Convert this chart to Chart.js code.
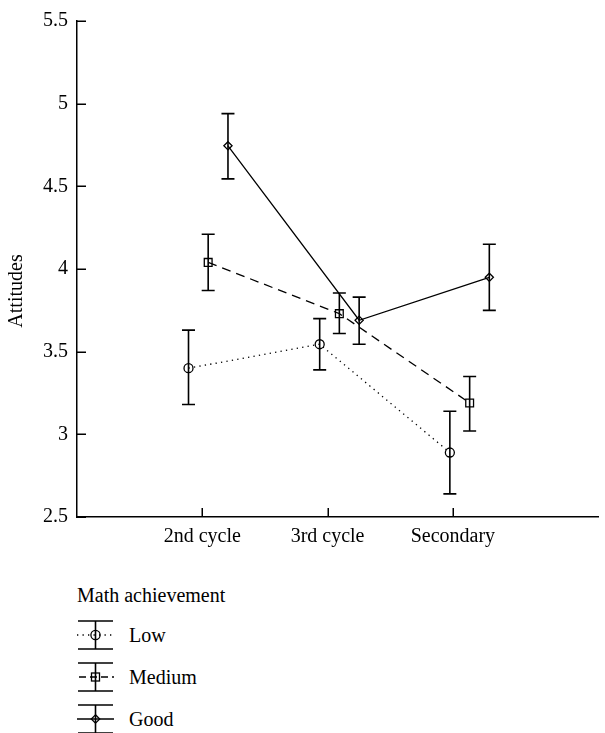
<!DOCTYPE html>
<html>
<head>
<meta charset="utf-8">
<script src="https://cdn.jsdelivr.net/npm/chart.js@4"></script>
<style>
  html, body { margin: 0; padding: 0; background: #fff; }
  #wrap { position: relative; width: 605px; height: 733px; overflow: hidden; font-family: "Liberation Serif", "DejaVu Serif", serif; color: #000; }
  #c { position: absolute; left: 0; top: 0; }
  #legend { position: absolute; left: 77px; top: 582px; font-size: 20px; }
  #legend .title { height: 26px; line-height: 26px; margin-bottom: 6px; }
  #legend .item { display: flex; align-items: center; height: 42px; }
  #legend .item svg { width: 37px; height: 30px; margin-right: 15px; overflow: visible; }
</style>
</head>
<body>
<div id="wrap">
  <canvas id="c"></canvas>
  <div id="legend"></div>
</div>
<script>
// ---- data ----
const categories = ['2nd cycle', '3rd cycle', 'Secondary'];
const seriesNames = ['Low', 'Medium', 'Good'];
const legendTitle = 'Math achievement';
const yAxisTitle = 'Attitudes';
const yTicks = [2.5, 3, 3.5, 4, 4.5, 5, 5.5];

const lowMean    = [3.40, 3.545, 2.89];
const lowLower   = [3.18, 3.39, 2.64];
const lowUpper   = [3.63, 3.70, 3.14];

const mediumMean  = [4.04, 3.73, 3.19];
const mediumLower = [3.87, 3.61, 3.02];
const mediumUpper = [4.21, 3.855, 3.35];

const goodMean  = [4.745, 3.69, 3.95];
const goodLower = [4.545, 3.545, 3.75];
const goodUpper = [4.94, 3.83, 4.15];

// horizontal dodge of each series around its category (in category units)
const lowDodge    = [-0.110, -0.063, -0.024];
const mediumDodge = [0.047, 0.094, 0.134];
const goodDodge   = [0.205, 0.252, 0.291];

// ---- build ----
const FONT = '"Liberation Serif", "DejaVu Serif", serif';
const FS = 20;

function pts(mean, dodge) {
  return mean.map((v, i) => ({ x: i + 1 + dodge[i], y: v }));
}

const styles = [
  { dash: [1.3, 4.2], point: 'circle', radius: 4.5 },
  { dash: [9, 6], point: 'rect', radius: 5.5 },
  { dash: [], point: 'rectRot', radius: 4.1 }
];
const means = [lowMean, mediumMean, goodMean];
const lowers = [lowLower, mediumLower, goodLower];
const uppers = [lowUpper, mediumUpper, goodUpper];
const dodges = [lowDodge, mediumDodge, goodDodge];

const datasets = seriesNames.map((name, s) => ({
  label: name,
  data: pts(means[s], dodges[s]),
  lower: lowers[s],
  upper: uppers[s],
  showLine: true,
  borderColor: '#000',
  borderWidth: 1.3,
  borderDash: styles[s].dash,
  pointStyle: styles[s].point,
  pointRadius: styles[s].radius,
  pointBorderWidth: 1.3,
  pointBorderColor: '#000',
  pointBackgroundColor: 'rgba(0,0,0,0)',
  tension: 0
}));

const errorBars = {
  id: 'errorBars',
  afterDatasetsDraw(chart) {
    const ctx = chart.ctx;
    const ys = chart.scales.y, xs = chart.scales.x;
    ctx.save();
    ctx.strokeStyle = '#000';
    ctx.lineWidth = 1.6;
    ctx.setLineDash([]);
    chart.data.datasets.forEach(ds => {
      ds.data.forEach((p, i) => {
        const x = xs.getPixelForValue(p.x);
        const y1 = ys.getPixelForValue(ds.lower[i]);
        const y2 = ys.getPixelForValue(ds.upper[i]);
        const hw = 6.5;
        ctx.beginPath();
        ctx.moveTo(x, y1); ctx.lineTo(x, y2);
        ctx.moveTo(x - hw, y1); ctx.lineTo(x + hw, y1);
        ctx.moveTo(x - hw, y2); ctx.lineTo(x + hw, y2);
        ctx.stroke();
      });
    });
    ctx.restore();
  }
};

const innerTicks = {
  id: 'innerTicks',
  afterDraw(chart) {
    const ctx = chart.ctx;
    const ys = chart.scales.y, xs = chart.scales.x;
    const a = chart.chartArea;
    const L = 9;
    ctx.save();
    ctx.strokeStyle = '#000';
    ctx.lineWidth = 1.5;
    ctx.beginPath();
    ys.ticks.forEach(t => {
      const y = Math.round(ys.getPixelForValue(t.value)) + 0.25;
      ctx.moveTo(a.left, y); ctx.lineTo(a.left + L, y);
    });
    xs.ticks.forEach(t => {
      const x = Math.round(xs.getPixelForValue(t.value)) + 0.25;
      ctx.moveTo(x, a.bottom); ctx.lineTo(x, a.bottom - L);
    });
    ctx.stroke();
    // y axis title
    ctx.fillStyle = '#000';
    ctx.font = FS + 'px ' + FONT;
    ctx.textAlign = 'center';
    ctx.textBaseline = 'middle';
    ctx.translate(17, (a.top + a.bottom) / 2 + 22);
    ctx.rotate(-Math.PI / 2);
    ctx.fillText(yAxisTitle, 0, 0);
    ctx.restore();
  }
};

const canvas = document.getElementById('c');
canvas.style.width = '605px';
canvas.style.height = '578px';

new Chart(canvas, {
  type: 'scatter',
  data: { datasets },
  options: {
    responsive: false,
    animation: false,
    devicePixelRatio: 1,
    layout: { padding: { top: 17, right: 0, left: 0, bottom: 0 } },
    plugins: { legend: { display: false }, tooltip: { enabled: false } },
    scales: {
      x: {
        type: 'linear',
        min: 0,
        max: 4.16,
        afterBuildTicks(scale) { scale.ticks = categories.map((c, i) => ({ value: i + 1 })); },
        afterFit(scale) { scale.height = 578 - 517; },
        ticks: {
          color: '#000',
          font: { family: FONT, size: FS },
          padding: 8,
          maxRotation: 0,
          autoSkip: false,
          callback: (v) => categories[Math.round(v) - 1] || ''
        },
        grid: { display: true, drawOnChartArea: false, drawTicks: false },
        border: { display: true, color: '#000', width: 1.5 }
      },
      y: {
        type: 'linear',
        min: 2.5,
        max: 5.5,
        afterBuildTicks(scale) { scale.ticks = yTicks.map(v => ({ value: v })); },
        afterFit(scale) { scale.width = 77; },
        ticks: {
          color: '#000',
          font: { family: FONT, size: FS },
          padding: 9,
          callback: (v) => String(v)
        },
        grid: { display: true, drawOnChartArea: false, drawTicks: false },
        border: { display: true, color: '#000', width: 1.5 }
      }
    }
  },
  plugins: [errorBars, innerTicks]
});

// ---- HTML legend ----
function icon(s) {
  const dash = s === 0 ? 'stroke-dasharray="1.3 4.2"' : (s === 1 ? 'stroke-dasharray="6 4"' : '');
  let marker;
  if (s === 0) marker = '<circle cx="18.5" cy="15" r="4.6" fill="none" stroke="#000" stroke-width="1.3"/>';
  else if (s === 1) marker = '<rect x="14.5" y="11" width="8" height="8" fill="none" stroke="#000" stroke-width="1.3"/>';
  else marker = '<polygon points="18.5,10.8 22.7,15 18.5,19.2 14.3,15" fill="none" stroke="#000" stroke-width="1.3"/>';
  const line = s === 1
    ? '<line x1="1" y1="15" x2="37" y2="15" stroke="#000" stroke-width="1.3" stroke-dasharray="7 4" stroke-dashoffset="-1"/>'
    : '<line x1="0" y1="15" x2="37" y2="15" stroke="#000" stroke-width="1.3" ' + dash + '/>';
  return '<svg viewBox="0 0 37 30">' +
    line +
    '<line x1="18.5" y1="1" x2="18.5" y2="29" stroke="#000" stroke-width="1.6"/>' +
    '<line x1="1" y1="1" x2="36" y2="1" stroke="#000" stroke-width="1.6"/>' +
    '<line x1="1" y1="29" x2="36" y2="29" stroke="#000" stroke-width="1.6"/>' +
    marker + '</svg>';
}
const lg = document.getElementById('legend');
let html = '<div class="title">' + legendTitle + '</div>';
seriesNames.forEach((n, s) => {
  html += '<div class="item">' + icon(s) + '<span>' + n + '</span></div>';
});
lg.innerHTML = html;
</script>
</body>
</html>
